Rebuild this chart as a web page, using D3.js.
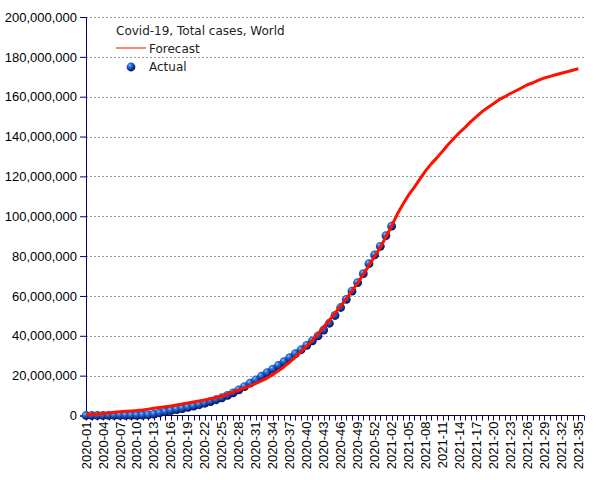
<!DOCTYPE html>
<html>
<head>
<meta charset="utf-8">
<script src="https://cdn.jsdelivr.net/npm/d3@7"></script>
<style>
  body { margin: 0; background: #fff; }
  svg { display: block; }
  text { font-family: "Liberation Sans", Arial, sans-serif; }
</style>
</head>
<body>
<svg id="chart" width="605" height="480"></svg>
<script>
// ---- data ----
const weeks2020 = d3.range(1, 54).map(w => "2020-" + String(w).padStart(2, "0"));
const weeks2021 = d3.range(1, 36).map(w => "2021-" + String(w).padStart(2, "0"));
const categories = weeks2020.concat(weeks2021);

// Actual total cases (millions), 2020-01 .. 2021-02
const actualValues = [
  0, 0, 0, 0.002, 0.017, 0.04, 0.071, 0.079, 0.088, 0.11,
  0.167, 0.337, 0.72, 1.27, 1.85, 2.4, 2.97, 3.5, 4.1, 4.72,
  5.4, 6.16, 7.0, 7.9, 8.9, 10.1, 11.4, 12.9, 14.5, 16.2,
  17.9, 19.7, 21.5, 23.3, 25.1, 27.0, 29.0, 31.0, 33.0, 35.2,
  37.5, 40.0, 42.9, 46.3, 50.2, 54.2, 58.3, 62.4, 66.7, 71.2,
  76.2, 80.6, 84.9, 90.3, 95.0
];

// Forecast total cases (millions), 2020-01 .. 2021-35
const forecastValues = [
  0.4, 0.6, 0.8, 1.0, 1.3, 1.6, 1.9, 2.1, 2.3, 2.5,
  2.8, 3.2, 3.6, 4.0, 4.4, 4.8, 5.3, 5.8, 6.3, 6.8,
  7.3, 7.8, 8.4, 9.0, 9.8, 10.8, 11.9, 12.8, 13.9, 14.9,
  16.1, 17.4, 18.8, 20.5, 22.4, 24.5, 26.8, 29.3, 32.0, 34.8,
  37.8, 41.0, 44.4, 47.8, 51.4, 55.0, 58.7, 62.5, 66.5, 70.8,
  75.3, 79.8, 84.3, 89.6, 95.2, 101.0, 106.0, 110.6, 114.5, 118.6,
  122.8, 126.3, 129.3, 132.6, 136.0, 139.0, 142.0, 144.6, 147.5, 150.0,
  152.5, 154.6, 156.5, 158.5, 160.0, 161.6, 163.0, 164.5, 166.0, 167.0,
  168.3, 169.4, 170.2, 171.0, 171.8, 172.5, 173.3, 174.0
];

const yTicks = [0, 20e6, 40e6, 60e6, 80e6, 100e6, 120e6, 140e6, 160e6, 180e6, 200e6];
const chartTitle = "Covid-19, Total cases, World";
const legendLabels = ["Forecast", "Actual"];

// ---- layout ----
const plotLeft = 86, plotRight = 584, plotTop = 17, plotBottom = 415.5;
const svg = d3.select("#chart");

const x = d3.scaleBand().domain(categories).range([plotLeft, plotRight]).padding(0);
const y = d3.scaleLinear().domain([0, 200e6]).range([plotBottom, plotTop]);

const defs = svg.append("defs");
const grad = defs.append("radialGradient").attr("id", "ball")
  .attr("cx", "40%").attr("cy", "35%").attr("r", "65%")
  .attr("fx", "35%").attr("fy", "30%");
grad.append("stop").attr("offset", "0%").attr("stop-color", "#8cc4ff");
grad.append("stop").attr("offset", "30%").attr("stop-color", "#2a74e0");
grad.append("stop").attr("offset", "70%").attr("stop-color", "#12389c");
grad.append("stop").attr("offset", "100%").attr("stop-color", "#040c48");

// gridlines
svg.append("g").selectAll("line").data(yTicks.filter(d => d > 0)).join("line")
  .attr("x1", plotLeft).attr("x2", plotRight)
  .attr("y1", d => Math.round(y(d)) + 0.5).attr("y2", d => Math.round(y(d)) + 0.5)
  .attr("stroke", "#999").attr("stroke-width", 1).attr("stroke-dasharray", "2,2");

// y axis
const yAxis = d3.axisLeft(y).tickValues(yTicks).tickSize(6).tickPadding(3)
  .tickFormat(d3.format(",d"));
const gy = svg.append("g").attr("transform", `translate(${plotLeft},0)`).call(yAxis);
gy.select(".domain").attr("stroke", "#000066");
gy.selectAll(".tick line").attr("stroke", "#000066");
gy.selectAll(".tick text").attr("font-size", 13).attr("fill", "#000")
  .style("font-family", "'Liberation Sans', Arial, sans-serif");

// x axis
const gx = svg.append("g");
gx.append("line").attr("x1", plotLeft).attr("x2", plotRight)
  .attr("y1", plotBottom).attr("y2", plotBottom).attr("stroke", "#000066");
const tickPos = categories.map(c => x(c)).concat([plotRight]);
gx.selectAll("line.t").data(tickPos).join("line").attr("class", "t")
  .attr("x1", d => Math.round(d) + 0.5).attr("x2", d => Math.round(d) + 0.5)
  .attr("y1", plotBottom).attr("y2", plotBottom + 5).attr("stroke", "#000066");
gx.selectAll("text").data(categories.filter((c, i) => i % 3 === 0)).join("text")
  .attr("transform", d => `translate(${x(d)},${plotBottom + 6}) rotate(-90)`)
  .attr("text-anchor", "end").attr("dy", "0.35em")
  .attr("font-size", 13).attr("fill", "#000").text(d => d);

// actual points
svg.append("g").selectAll("circle").data(actualValues).join("circle")
  .attr("cx", (d, i) => x(categories[i]))
  .attr("cy", d => y(d * 1e6))
  .attr("r", 4.4).attr("fill", "url(#ball)");

// forecast line
const line = d3.line().x((d, i) => x(categories[i])).y(d => y(d * 1e6));
svg.append("path").datum(forecastValues).attr("d", line)
  .attr("fill", "none").attr("stroke", "#ff1100").attr("stroke-width", 3)
  .attr("stroke-linejoin", "round");

// legend
const lg = svg.append("g").style("font-family", "'DejaVu Sans', sans-serif");
lg.append("text").attr("x", 116).attr("y", 34.5).attr("font-size", 12)
  .style("font-family", "'DejaVu Sans', sans-serif")
  .attr("fill", "#222").text(chartTitle);
lg.append("line").attr("x1", 116).attr("x2", 146).attr("y1", 48).attr("y2", 48)
  .attr("stroke", "#ff3300").attr("stroke-width", 1.2);
lg.append("text").attr("x", 149).attr("y", 52.5).attr("font-size", 12)
  .style("font-family", "'DejaVu Sans', sans-serif")
  .attr("fill", "#222").text(legendLabels[0]);
lg.append("circle").attr("cx", 131).attr("cy", 67).attr("r", 4.4).attr("fill", "url(#ball)");
lg.append("text").attr("x", 149).attr("y", 71).attr("font-size", 12)
  .style("font-family", "'DejaVu Sans', sans-serif")
  .attr("fill", "#222").text(legendLabels[1]);
</script>
</body>
</html>
